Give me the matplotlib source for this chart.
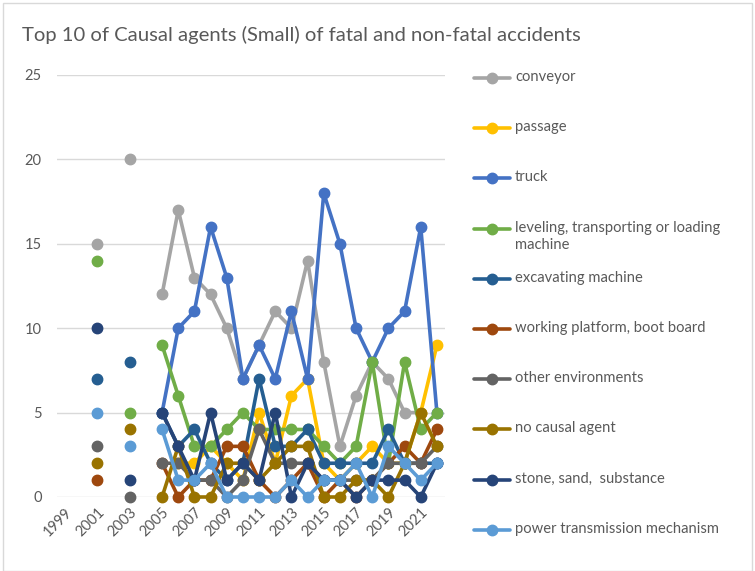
import matplotlib

matplotlib.use("Agg")
import matplotlib.pyplot as plt
import numpy as np
from matplotlib.lines import Line2D
from matplotlib.patches import Rectangle

# ── data (None = no value that year) ────────────────────────────────
years = list(range(1999, 2023))
N = None

conveyor = [N, 15, N, 20, N, 12, 17, 13, 12, 10, 7, 9, 11, 10, 14, 8, 3, 6, 8, 7, 5, 5, N]
passage = [N, N, N, N, N, N, 2, 2, 3, 2, 1, 5, 2, 6, 7, 2, 1, 2, 3, 2, 2, 5, 9]
truck = [N, N, N, N, N, 5, 10, 11, 16, 13, 7, 9, 7, 11, 7, 18, 15, 10, 8, 10, 11, 16, 5]
leveling = [N, 14, N, 5, N, 9, 6, 3, 3, 4, 5, 4, 4, 4, 4, 3, 2, 3, 8, 2, 8, 4, 5]
excavating = [N, 7, N, 8, N, 5, 3, 4, 2, 1, 2, 7, 3, 3, 4, 2, 2, 2, 2, 4, 2, 2, 2]
working_platform = [N, 1, N, N, N, 2, 0, 1, 1, 3, 3, 1, 0, 1, 2, 0, 1, 0, 1, 2, 3, 2, 4]
other_env = [N, 3, N, 0, N, 2, 2, 1, 1, 0, 1, 4, 2, 2, 2, 1, 1, 1, 1, 2, 2, 2, 3]
no_agent = [N, 2, N, 4, N, 0, 3, 0, 0, 2, 2, 1, 2, 3, 3, 0, 0, 1, 1, 0, 2, 5, 3]
stone = [N, 10, N, 1, N, 5, 3, 1, 5, 1, 2, 1, 5, 0, 2, 1, 1, 0, 1, 1, 1, 0, 2]
power = [N, 5, N, 3, N, 4, 1, 1, 2, 0, 0, 0, 0, 1, 0, 1, 1, 2, 0, 3, 2, 1, 2]

# values above start at 2000; 1999 is an empty category
series_x = years[1:]

names = [
    "conveyor",
    "passage",
    "truck",
    "leveling, transporting or loading\nmachine",
    "excavating machine",
    "working platform, boot board",
    "other environments",
    "no causal agent",
    "stone, sand,  substance",
    "power transmission mechanism",
]
values = [conveyor, passage, truck, leveling, excavating, working_platform,
          other_env, no_agent, stone, power]
colors = ["#A5A5A5", "#FFC000", "#4472C4", "#70AD47", "#255E91",
          "#9E480E", "#636363", "#997300", "#264478", "#5B9BD5"]

W, H = 755, 571
plt.rcParams["font.family"] = ["Lato", "DejaVu Sans"]
txt = "#595959"

fig = plt.figure(figsize=(W / 100, H / 100), dpi=100)
fig.patches.append(Rectangle((3 / W, 0), (W - 6) / W, 1 - 3 / H, transform=fig.transFigure,
                             fill=False, edgecolor="#D9D9D9", linewidth=1))

ax = fig.add_axes([57 / W, 1 - 497 / H, 388 / W, 422 / H])

for name, vals, c in zip(names, values, colors):
    y = np.array(vals, dtype=float)
    ax.plot(series_x, y, color=c, lw=2.6, marker="o", ms=7.5, solid_capstyle="round",
            solid_joinstyle="round", label=name, clip_on=False)

ax.set_xlim(1998.5, 2022.5)
ax.set_ylim(0, 25)
ax.set_yticks(range(0, 26, 5))
ax.set_xticks(years[::2])
ax.set_xticklabels([str(y) for y in years[::2]], rotation=45, ha="right", va="top",
                   rotation_mode="anchor")
ax.tick_params(axis="both", length=0, colors=txt, labelsize=10.5)
ax.tick_params(axis="y", pad=11)
ax.tick_params(axis="x", pad=6)
ax.grid(axis="y", color="#D9D9D9", lw=1)
ax.set_axisbelow(True)
for s in ax.spines.values():
    s.set_visible(False)

fig.text(22 / W, 1 - 35 / H, "Top 10 of Causal agents (Small) of fatal and non-fatal accidents",
         fontsize=14.6, color=txt, va="center", ha="left")

# legend, evenly spaced like the Excel one
for i, (name, c) in enumerate(zip(names, colors)):
    yc = 1 - (78 + 50.2 * i) / H
    fig.add_artist(Line2D([474 / W, 510 / W], [yc, yc], transform=fig.transFigure,
                          color=c, lw=2.6, solid_capstyle="round"))
    fig.add_artist(Line2D([492 / W], [yc], transform=fig.transFigure, color=c,
                          marker="o", ms=7.5))
    fig.text(515 / W, yc + 8 / H, name, fontsize=10.6, color=txt, va="top", ha="left",
             linespacing=1.35)

fig.savefig("out.png", dpi=100)
